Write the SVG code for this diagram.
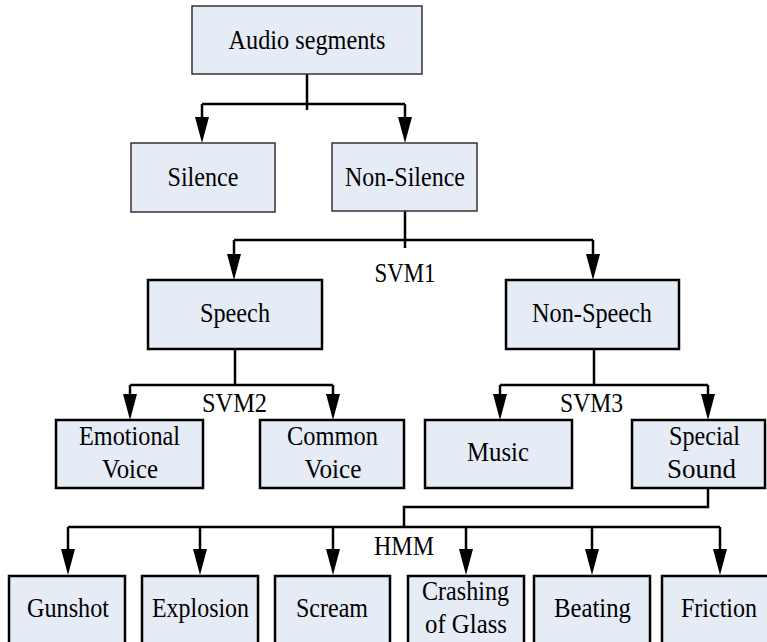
<svg xmlns="http://www.w3.org/2000/svg" width="767" height="642" viewBox="0 0 767 642">
<style>
.thin{fill:#E6ECF6;stroke:#333;stroke-width:1.5}
.box{fill:#E6ECF6;stroke:#000;stroke-width:2.5}
.conn{fill:none;stroke:#000;stroke-width:2.5}
.t{font-family:'Times New Roman','Liberation Serif','DejaVu Serif',serif;font-size:28px;fill:#000;text-anchor:middle}
</style>
<defs>
<marker id="arr" markerUnits="userSpaceOnUse" viewBox="0 0 26 14" markerWidth="26" markerHeight="14" refX="6" refY="7" orient="auto">
<path d="M0,0 L26,7 L0,14 Z" fill="#000"/>
</marker>
</defs>
<rect width="767" height="642" fill="#fff"/>
<g id="connectors">
<path class="conn" d="M307,74 V110 M202,104 H405"/>
<path class="conn" d="M202,104 V123" marker-end="url(#arr)"/>
<path class="conn" d="M405,104 V123" marker-end="url(#arr)"/>
<path class="conn" d="M405,211 V248 M234,240 H593"/>
<path class="conn" d="M234,240 V260" marker-end="url(#arr)"/>
<path class="conn" d="M593,240 V260" marker-end="url(#arr)"/>
<path class="conn" d="M235,349 V385 M130,385 H333"/>
<path class="conn" d="M130,385 V400" marker-end="url(#arr)"/>
<path class="conn" d="M333,385 V400" marker-end="url(#arr)"/>
<path class="conn" d="M594,349 V385 M500,385 H708"/>
<path class="conn" d="M500,385 V400" marker-end="url(#arr)"/>
<path class="conn" d="M708,385 V400" marker-end="url(#arr)"/>
<path class="conn" d="M708,488 V507 H404 V527 M68,527 H720"/>
<path class="conn" d="M68,527 V555" marker-end="url(#arr)"/>
<path class="conn" d="M200,527 V555" marker-end="url(#arr)"/>
<path class="conn" d="M333,527 V555" marker-end="url(#arr)"/>
<path class="conn" d="M466,527 V555" marker-end="url(#arr)"/>
<path class="conn" d="M592,527 V555" marker-end="url(#arr)"/>
<path class="conn" d="M720,527 V555" marker-end="url(#arr)"/>
<text class="t" x="405" y="282" textLength="61" lengthAdjust="spacingAndGlyphs">SVM1</text>
<text class="t" x="234.5" y="412" textLength="65" lengthAdjust="spacingAndGlyphs">SVM2</text>
<text class="t" x="591.5" y="412" textLength="63" lengthAdjust="spacingAndGlyphs">SVM3</text>
<text class="t" x="404" y="555" textLength="60" lengthAdjust="spacingAndGlyphs">HMM</text>
</g>
<g id="audio">
<rect class="thin" x="192" y="6" width="230" height="68"/>
<text class="t" x="307" y="49" textLength="157" lengthAdjust="spacingAndGlyphs">Audio segments</text>
</g>
<g id="silence">
<rect class="thin" x="131" y="143" width="144" height="69"/>
<text class="t" x="203" y="186" textLength="71" lengthAdjust="spacingAndGlyphs">Silence</text>
</g>
<g id="nonsilence">
<rect class="thin" x="332" y="143" width="145" height="68"/>
<text class="t" x="405" y="186" textLength="120" lengthAdjust="spacingAndGlyphs">Non-Silence</text>
</g>
<g id="speech">
<rect class="box" x="148" y="280" width="174" height="69"/>
<text class="t" x="235" y="322" textLength="70" lengthAdjust="spacingAndGlyphs">Speech</text>
</g>
<g id="nonspeech">
<rect class="box" x="506" y="280" width="173" height="69"/>
<text class="t" x="592" y="322" textLength="120" lengthAdjust="spacingAndGlyphs">Non-Speech</text>
</g>
<g id="emotional">
<rect class="box" x="56" y="420" width="147" height="68"/>
<text class="t" x="129.5" y="445" textLength="101" lengthAdjust="spacingAndGlyphs">Emotional</text>
<text class="t" x="130" y="478" textLength="56" lengthAdjust="spacingAndGlyphs">Voice</text>
</g>
<g id="common">
<rect class="box" x="260" y="420" width="144" height="68"/>
<text class="t" x="332.5" y="445" textLength="91" lengthAdjust="spacingAndGlyphs">Common</text>
<text class="t" x="333" y="478" textLength="57" lengthAdjust="spacingAndGlyphs">Voice</text>
</g>
<g id="music">
<rect class="box" x="425" y="420" width="147" height="68"/>
<text class="t" x="498" y="461" textLength="62" lengthAdjust="spacingAndGlyphs">Music</text>
</g>
<g id="special">
<rect class="box" x="632" y="420" width="133" height="68"/>
<text class="t" x="704.5" y="445" textLength="71" lengthAdjust="spacingAndGlyphs">Special</text>
<text class="t" x="701.5" y="478" textLength="69" lengthAdjust="spacingAndGlyphs">Sound</text>
</g>
<g id="gunshot">
<rect class="box" x="9" y="576" width="116" height="80"/>
<text class="t" x="68" y="617" textLength="82" lengthAdjust="spacingAndGlyphs">Gunshot</text>
</g>
<g id="explosion">
<rect class="box" x="142" y="576" width="116" height="80"/>
<text class="t" x="200.5" y="617" textLength="97" lengthAdjust="spacingAndGlyphs">Explosion</text>
</g>
<g id="scream">
<rect class="box" x="275" y="576" width="115" height="80"/>
<text class="t" x="332" y="617" textLength="72" lengthAdjust="spacingAndGlyphs">Scream</text>
</g>
<g id="crashing">
<rect class="box" x="408" y="576" width="116" height="80"/>
<text class="t" x="465.5" y="600" textLength="87" lengthAdjust="spacingAndGlyphs">Crashing</text>
<text class="t" x="466" y="633" textLength="82" lengthAdjust="spacingAndGlyphs">of Glass</text>
</g>
<g id="beating">
<rect class="box" x="534" y="576" width="116" height="80"/>
<text class="t" x="592.5" y="617" textLength="77" lengthAdjust="spacingAndGlyphs">Beating</text>
</g>
<g id="friction">
<rect class="box" x="662" y="576" width="107" height="80"/>
<text class="t" x="719" y="617" textLength="76" lengthAdjust="spacingAndGlyphs">Friction</text>
</g>
</svg>
